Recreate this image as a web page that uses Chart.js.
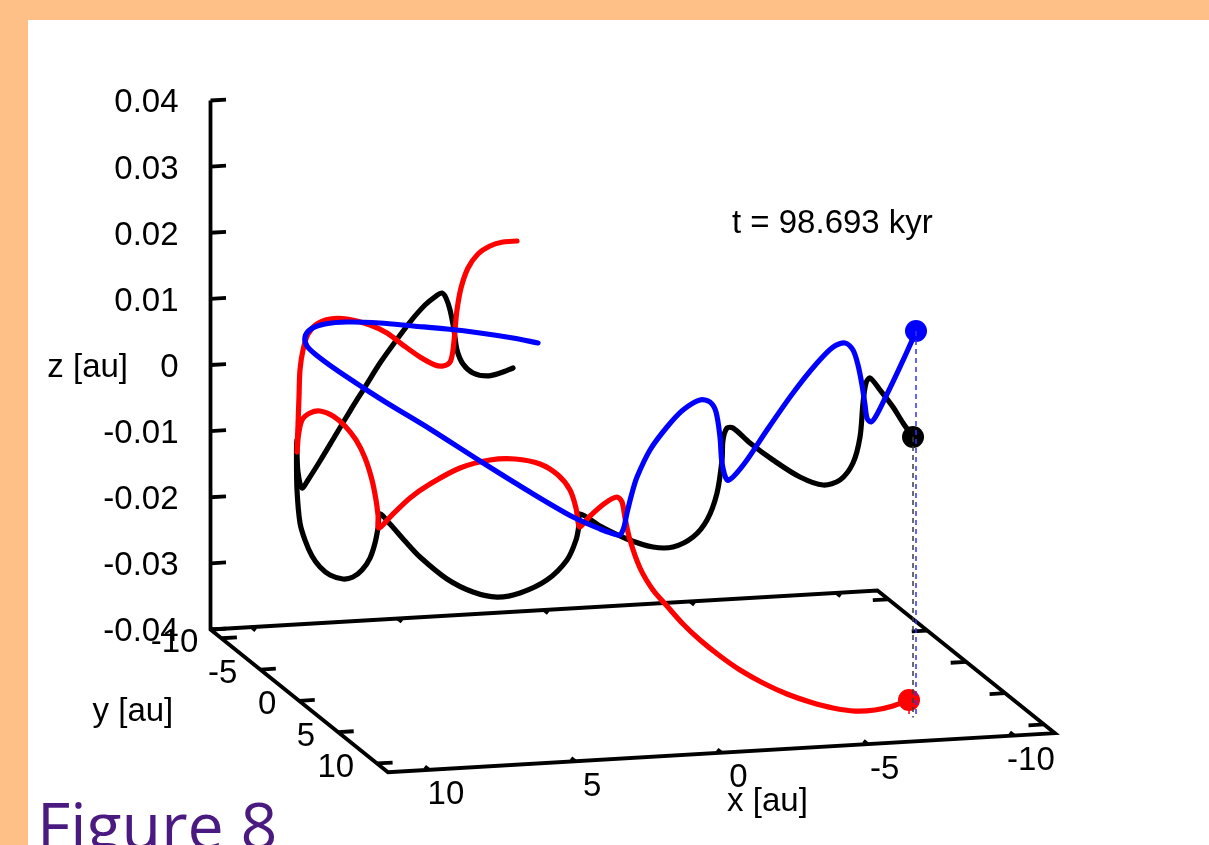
<!DOCTYPE html>
<html>
<head>
<meta charset="utf-8">
<title>Figure 8</title>
<script src="https://cdn.jsdelivr.net/npm/chart.js@4"></script>
<style>
  html, body { margin: 0; padding: 0; width: 1209px; height: 845px; overflow: hidden; background: #ffc088; }
  #panel { position: absolute; left: 28px; top: 20px; width: 1181px; height: 825px; background: #ffffff; }
  #plot { position: absolute; left: 0; top: 0; }
  #caption { position: absolute; left: 37px; top: 793px; margin: 0; font-family: "Open Sans", sans-serif;
             font-size: 64.5px; line-height: 62px; font-weight: 400; color: #4a1a80; white-space: nowrap; }
</style>
</head>
<body>
<div id="panel"></div>
<canvas id="plot" width="1209" height="845"></canvas>
<div id="caption">Figure 8</div>
<script>
// ---- axes ----
const xAxisTicks = [10, 5, 0, -5, -10];
const yAxisTicks = [-10, -5, 0, 5, 10];
const zAxisTicks = [-0.04, -0.03, -0.02, -0.01, 0, 0.01, 0.02, 0.03, 0.04];
const xLimits = [-11.4, 11.4];
const yLimits = [-11.4, 11.4];
const zLimits = [-0.04, 0.04];
const axisTitles = { x: 'x [au]', y: 'y [au]', z: 'z [au]' };
const timeStamp = 't = 98.693 kyr';

// ---- trajectories, as seen in the view plane: [x along the front axis, z on the vertical axis] ----
const blackOrbit = [
  [7.127,-0.00045],[7.571,-0.00121],[8.015,-0.00166],[8.494,-0.00121],[8.836,0.00015],[9.041,0.00227],
  [9.144,0.00529],[9.280,0.00832],[9.417,0.01013],[9.554,0.01089],[9.759,0.01043],[10.135,0.00907],
  [10.648,0.00650],[11.161,0.00348],[11.674,0.00030],[12.186,-0.00333],[12.699,-0.00696],[13.212,-0.01074],
  [13.725,-0.01452],[14.135,-0.01739],[14.340,-0.01860],[14.477,-0.01618],[14.511,-0.01316],[14.511,-0.01134],
  [14.528,-0.01361],[14.511,-0.01890],[14.409,-0.02389],[14.238,-0.02647],[13.998,-0.02888],[13.725,-0.03055],
  [13.383,-0.03176],[12.939,-0.03236],[12.597,-0.03206],[12.289,-0.03100],[12.015,-0.02919],[11.844,-0.02692],
  [11.742,-0.02465],[11.674,-0.02253],[11.332,-0.02405],[10.819,-0.02662],[10.306,-0.02904],[9.383,-0.03236],
  [8.494,-0.03433],[7.674,-0.03509],[6.887,-0.03448],[5.964,-0.03251],[5.280,-0.02949],[4.973,-0.02647],
  [4.870,-0.02420],[4.836,-0.02253],[4.152,-0.02435],[3.229,-0.02631],[2.340,-0.02752],[1.656,-0.02752],
  [0.973,-0.02601],[0.494,-0.02344],[0.152,-0.01936],[-0.019,-0.01437],[-0.053,-0.01134],[-0.190,-0.00953],
  [-0.395,-0.00953],[-0.976,-0.01180],[-1.762,-0.01437],[-2.685,-0.01694],[-3.472,-0.01815],[-4.053,-0.01739],
  [-4.497,-0.01482],[-4.737,-0.01089],[-4.839,-0.00575],[-4.942,-0.00272],[-5.079,-0.00197],[-5.420,-0.00378],
  [-5.865,-0.00635],[-6.207,-0.00877],[-6.549,-0.01089]
];
const redOrbit = [
  [6.990,0.01875],[7.468,0.01860],[7.913,0.01800],[8.323,0.01679],[8.665,0.01467],[8.904,0.01164],
  [9.041,0.00832],[9.109,0.00529],[9.178,0.00227],[9.280,0.00045],[9.520,-0.00015],[9.793,0.00000],
  [10.306,0.00121],[10.887,0.00302],[11.434,0.00484],[12.015,0.00605],[12.802,0.00696],[13.383,0.00696],
  [13.827,0.00620],[14.135,0.00469],[14.306,0.00227],[14.409,-0.00076],[14.443,-0.00484],[14.477,-0.00907],
  [14.511,-0.01316],[14.460,-0.01059],[14.340,-0.00832],[14.067,-0.00726],[13.725,-0.00696],[13.280,-0.00771],
  [12.870,-0.00922],[12.494,-0.01134],[12.186,-0.01406],[11.947,-0.01739],[11.810,-0.02042],[11.742,-0.02268],
  [11.708,-0.02465],[11.332,-0.02299],[10.648,-0.02011],[9.964,-0.01800],[8.939,-0.01558],[7.913,-0.01437],
  [7.058,-0.01422],[6.203,-0.01497],[5.588,-0.01664],[5.178,-0.01890],[4.973,-0.02163],[4.904,-0.02374],
  [4.836,-0.02450],[4.494,-0.02284],[3.981,-0.02087],[3.571,-0.01996],[3.400,-0.02072],[3.297,-0.02314],
  [3.127,-0.02647],[2.785,-0.03070],[2.340,-0.03403],[1.862,-0.03645],[1.315,-0.03917],[0.733,-0.04159],
  [0.050,-0.04401],[-0.634,-0.04613],[-1.420,-0.04809],[-2.241,-0.04975],[-3.027,-0.05096],[-3.814,-0.05187],
  [-4.566,-0.05233],[-5.250,-0.05217],[-5.865,-0.05157],[-6.412,-0.05066]
];
const blueOrbit = [
  [6.272,0.00333],[7.127,0.00408],[8.255,0.00484],[9.383,0.00544],[10.545,0.00590],[11.674,0.00635],
  [12.802,0.00650],[13.554,0.00620],[14.033,0.00544],[14.238,0.00423],[14.169,0.00287],[13.896,0.00166],
  [13.212,-0.00060],[12.289,-0.00333],[11.434,-0.00575],[9.964,-0.00968],[8.255,-0.01452],[6.545,-0.01921],
  [5.075,-0.02299],[4.152,-0.02480],[3.674,-0.02556],[3.468,-0.02571],[3.332,-0.02450],[3.229,-0.02238],
  [3.058,-0.01936],[2.887,-0.01694],[2.443,-0.01285],[1.862,-0.00938],[1.315,-0.00681],[0.733,-0.00529],
  [0.392,-0.00560],[0.186,-0.00711],[0.050,-0.01089],[-0.019,-0.01482],[-0.190,-0.01739],[-0.395,-0.01694],
  [-0.873,-0.01437],[-1.557,-0.00983],[-2.446,-0.00423],[-3.267,0.00030],[-3.814,0.00272],[-4.224,0.00333],
  [-4.497,0.00227],[-4.668,0.00000],[-4.805,-0.00302],[-4.908,-0.00605],[-4.976,-0.00802],[-5.112,-0.00862],
  [-5.284,-0.00771],[-5.660,-0.00439],[-6.104,-0.00030],[-6.446,0.00302],[-6.651,0.00514]
];
// position of the bodies in the x-y plane at the current time
const bodiesXY = [-7.55, 7.83];

// ---- view: how depth (y) and x shift points in the picture plane ----
const VIEW = {
  xPerY: -0.26615,      // horizontal shift, in x units, per unit of depth y
  zPerX: -0.0002586,    // vertical shift, in z units, per unit of x
  zPerY: -0.0009465,    // vertical shift, in z units, per unit of y
  xSpan: [-16.668, 24.665],
  zSpan: [-0.07259, 0.055198]
};
function project(x, y, z) {
  return {
    x: x + VIEW.xPerY * (y - yLimits[1]),
    y: z + VIEW.zPerX * (x - xLimits[1]) + VIEW.zPerY * (y - yLimits[0])
  };
}

const FONT = '33px "Liberation Sans", Arial, sans-serif';
const TICK = 0.53;

// frame: top of the z axis down to the floor corner, then around the floor
const floorZ = zLimits[0];
const frame = [
  project(xLimits[1], yLimits[0], zLimits[1]),
  project(xLimits[1], yLimits[0], floorZ),
  project(xLimits[1], yLimits[1], floorZ),
  project(xLimits[0], yLimits[1], floorZ),
  project(xLimits[0], yLimits[0], floorZ),
  project(xLimits[1], yLimits[0], floorZ)
];

const toPt = ([x, z]) => ({ x, y: z });
const footZ = project(bodiesXY[0], bodiesXY[1], floorZ).y;

function orbitSet(label, pts, color, order) {
  return {
    label, data: pts.map(toPt), showLine: true, borderColor: color, borderWidth: 5.2,
    pointRadius: 0, tension: 0.3, order, borderCapStyle: 'round', borderJoinStyle: 'round'
  };
}
function bodySet(label, pts, color, order) {
  const last = pts[pts.length - 1];
  return {
    label, data: [toPt(last)], showLine: false, pointRadius: 11, pointHoverRadius: 11,
    backgroundColor: color, borderWidth: 0, order
  };
}
function dropSet(label, pts, color) {
  const last = pts[pts.length - 1];
  return {
    label, data: [toPt(last), { x: last[0], y: footZ }], showLine: true, borderColor: color,
    borderWidth: 1.5, borderDash: [5, 4], pointRadius: 0, order: 0
  };
}

// ticks and labels of the box axes
const boxAxes = {
  id: 'boxAxes',
  beforeDatasetsDraw(chart) {
    const { ctx, scales: { x: sx, y: sy } } = chart;
    const px = p => [sx.getPixelForValue(p.x), sy.getPixelForValue(p.y)];
    const seg = (a, b) => {
      const [x1, y1] = px(a), [x2, y2] = px(b);
      ctx.moveTo(x1, y1); ctx.lineTo(x2, y2);
    };
    ctx.save();
    ctx.strokeStyle = '#000';
    ctx.lineWidth = 3.8;
    ctx.lineCap = 'butt';
    ctx.beginPath();
    zAxisTicks.forEach(z => seg(project(xLimits[1], yLimits[0], z), project(xLimits[1] - TICK, yLimits[0], z)));
    yAxisTicks.forEach(y => {
      seg(project(xLimits[1], y, floorZ), project(xLimits[1] - TICK, y, floorZ));
      seg(project(xLimits[0], y, floorZ), project(xLimits[0] + TICK, y, floorZ));
    });
    xAxisTicks.forEach(x => {
      seg(project(x, yLimits[1], floorZ), project(x, yLimits[1] - TICK, floorZ));
      seg(project(x, yLimits[0], floorZ), project(x, yLimits[0] + TICK, floorZ));
    });
    ctx.stroke();

    ctx.fillStyle = '#000';
    ctx.font = FONT;
    ctx.textBaseline = 'alphabetic';
    // z tick labels
    ctx.textAlign = 'right';
    zAxisTicks.forEach(z => {
      const [x0, y0] = px(project(xLimits[1], yLimits[0], z));
      ctx.fillText(z === 0 ? '0' : z.toFixed(2), x0 - 32, y0 + 12);
    });
    // y tick labels
    yAxisTicks.forEach(y => {
      const [x0, y0] = px(project(xLimits[1], y, floorZ));
      ctx.fillText(String(y), x0 - 23, y0 + 13.5);
    });
    // x tick labels
    ctx.textAlign = 'center';
    xAxisTicks.forEach(x => {
      const [x0, y0] = px(project(x, yLimits[1], floorZ));
      ctx.fillText(String(x), x0 + 17, y0 + 34.5);
    });
    // axis titles
    let [ax, ay] = px(project(0, yLimits[1], floorZ));
    ctx.fillText(axisTitles.x, ax + 46, ay + 58.5);
    ctx.textAlign = 'right';
    [ax, ay] = px(project(xLimits[1], 0, floorZ));
    ctx.fillText(axisTitles.y, ax - 126, ay + 20);
    [ax, ay] = px(project(xLimits[1], yLimits[0], 0));
    ctx.fillText(axisTitles.z, ax - 82.5, ay + 12);
    // time stamp
    ctx.textAlign = 'left';
    ctx.fillText(timeStamp, sx.getPixelForValue(-0.36), sy.getPixelForValue(0.02));
    ctx.restore();
  }
};

new Chart(document.getElementById('plot'), {
  type: 'scatter',
  data: {
    datasets: [
      {
        label: 'frame', data: frame, showLine: true, borderColor: '#000', borderWidth: 3.8,
        pointRadius: 0, tension: 0, order: 20, borderJoinStyle: 'miter'
      },
      orbitSet('body 1', blackOrbit, '#000000', 6),
      bodySet('body 1 now', blackOrbit, '#000000', 5),
      orbitSet('body 2', redOrbit, '#ff0000', 4),
      bodySet('body 2 now', redOrbit, '#ff0000', 3),
      orbitSet('body 3', blueOrbit, '#0000ff', 2),
      bodySet('body 3 now', blueOrbit, '#0000ff', 1),
      dropSet('body 1 drop', blackOrbit, '#3a3a3a'),
      dropSet('body 2 drop', redOrbit, '#ff0000'),
      dropSet('body 3 drop', blueOrbit, '#3030ff')
    ]
  },
  options: {
    responsive: false,
    animation: false,
    devicePixelRatio: 1,
    layout: { padding: 0, autoPadding: false },
    plugins: { legend: { display: false }, tooltip: { enabled: false } },
    events: [],
    scales: {
      x: { type: 'linear', display: false, reverse: true, min: VIEW.xSpan[0], max: VIEW.xSpan[1] },
      y: { type: 'linear', display: false, min: VIEW.zSpan[0], max: VIEW.zSpan[1] }
    }
  },
  plugins: [boxAxes]
});
</script>
</body>
</html>
